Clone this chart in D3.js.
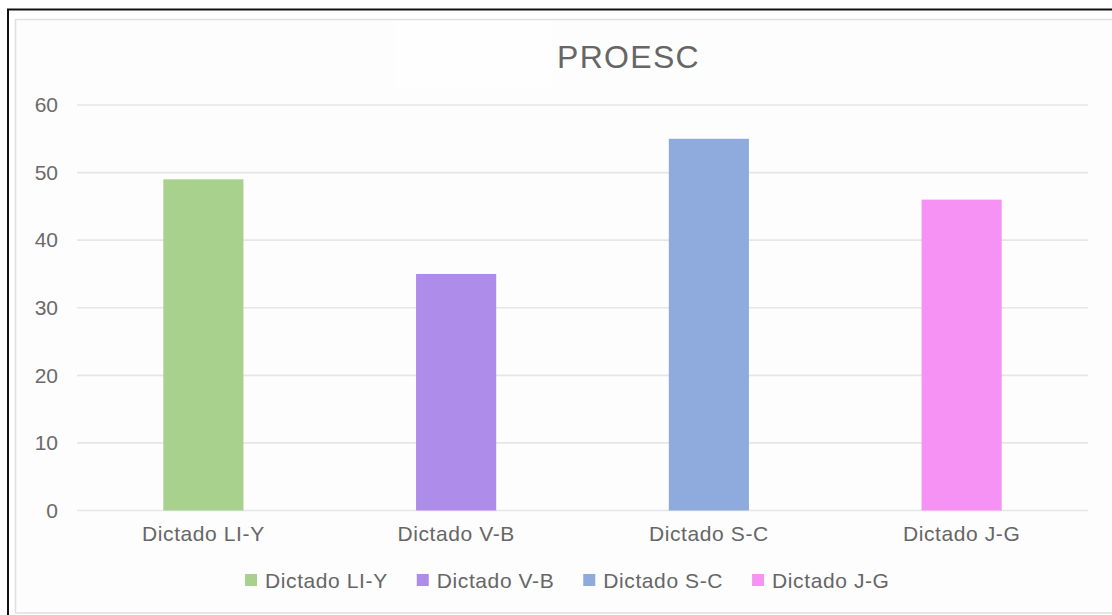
<!DOCTYPE html>
<html><head><meta charset="utf-8">
<script src="https://cdn.jsdelivr.net/npm/d3@7"></script>
<style>
html,body{margin:0;padding:0;background:#fff;}
svg{display:block;font-family:"Liberation Sans",Arial,sans-serif;}
</style></head>
<body><svg id="c" width="1112" height="615"></svg>
<script>
const title = "PROESC";
const categories = ["Dictado LI-Y","Dictado V-B","Dictado S-C","Dictado J-G"];
const values = [49, 35, 55, 46];
const colors = ["#a9d18e","#ad8cea","#8faadc","#f692f4"];
const yTicks = [0,10,20,30,40,50,60];

const svg = d3.select("#c");
// frames
svg.append("rect").attr("x",8).attr("y",9.5).attr("width",1120).attr("height",620)
  .attr("fill","#fff").attr("stroke","#111").attr("stroke-width",2);
svg.append("rect").attr("x",15.5).attr("y",19.5).attr("width",1110).attr("height",593.5)
  .attr("fill","#fdfdfd").attr("stroke","#e0e0e0").attr("stroke-width",1.5);
svg.append("rect").attr("x",395).attr("y",21).attr("width",157).attr("height",67).attr("fill","#fefefe");

const x = d3.scaleBand().domain(categories).range([77,1088]).paddingInner(0.683).paddingOuter(0.3415);
const y = d3.scaleLinear().domain([0,60]).range([510.5,105]);

// gridlines
svg.append("g").selectAll("line").data(yTicks).join("line")
  .attr("x1",77).attr("x2",1088).attr("y1",d=>y(d)).attr("y2",d=>y(d))
  .attr("stroke","#e6e6e6").attr("stroke-width",1.6);

// y axis
const ya = svg.append("g").attr("transform","translate(77,0)")
  .call(d3.axisLeft(y).tickValues(yTicks).tickSize(0).tickPadding(19));
ya.select(".domain").remove();
ya.selectAll("text").attr("font-size",21).attr("fill","#6a6a6a").attr("font-family","Liberation Sans, Arial, sans-serif");

// bars
svg.append("g").selectAll("rect").data(categories).join("rect")
  .attr("x",d=>x(d)).attr("width",x.bandwidth())
  .attr("y",(d,i)=>y(values[i])).attr("height",(d,i)=>y(0)-y(values[i]))
  .attr("fill",(d,i)=>colors[i]);

// x axis
const xa = svg.append("g").attr("transform","translate(0,510.5)")
  .call(d3.axisBottom(x).tickSize(0).tickPadding(16));
xa.select(".domain").remove();
xa.selectAll("text").attr("font-size",21).attr("letter-spacing","0.6px").attr("fill","#666")
  .attr("font-family","Liberation Sans, Arial, sans-serif");

// title
svg.append("text").attr("x",628.5).attr("y",68).attr("text-anchor","middle")
  .attr("font-size",32).attr("letter-spacing","1.3px").attr("fill","#666").text(title);

// legend
const lg = svg.append("g");
let lx = 245;
categories.forEach((c,i)=>{
  lg.append("rect").attr("x",lx).attr("y",574).attr("width",12).attr("height",12).attr("fill",colors[i]);
  const t = lg.append("text").attr("x",lx+20).attr("y",587.5).attr("font-size",21)
    .attr("letter-spacing","0.6px").attr("fill","#666").text(c);
  const w = t.node().getComputedTextLength();
  lx = lx + 20 + w + 29;
});
</script></body></html>
